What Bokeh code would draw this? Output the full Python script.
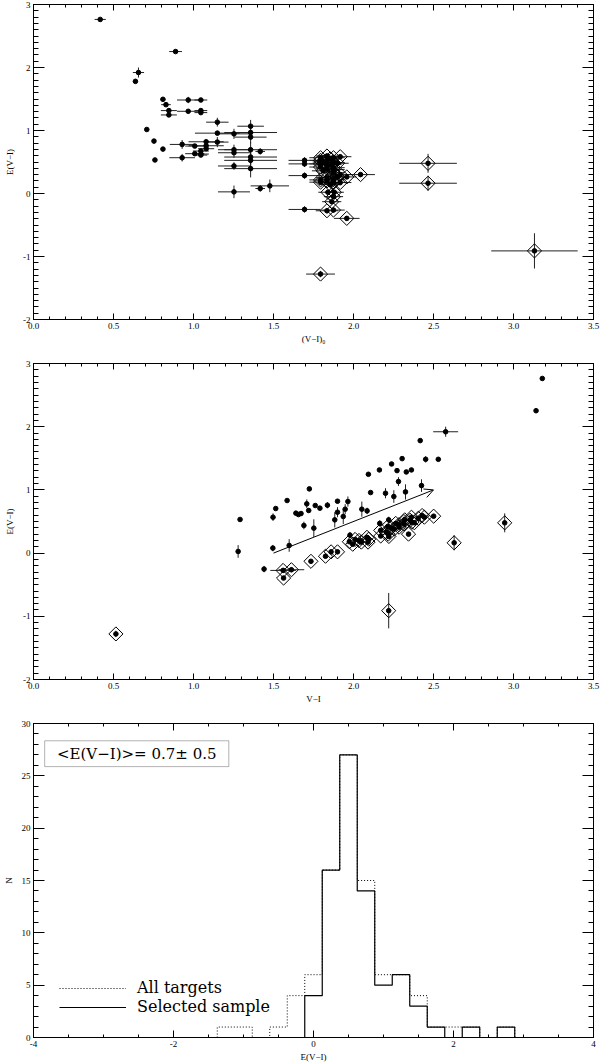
import numpy as np
from bokeh.plotting import figure
from bokeh.models import (ColumnDataSource, LinearAxis, FixedTicker, PrintfTickFormatter,
                          CustomJSTickFormatter, Range1d, Arrow, OpenHead, Legend, LegendItem,
                          Label, BoxAnnotation)
from bokeh.layouts import column
from bokeh.embed import file_html
from bokeh.resources import INLINE

# ---------------- data ----------------
# stars without diamond flag: intrinsic colour (V-I)0, reddening E(V-I), errors
dot_vi0 = [0.417, 0.888, 0.656, 0.637, 0.809, 0.828, 0.846, 0.846, 0.967, 1.046,
           0.967, 1.046, 1.046, 0.708, 0.753, 0.759, 0.809, 0.929, 0.929, 1.008,
           1.008, 1.046, 1.046, 1.046, 1.079, 1.079, 1.079, 1.149, 1.149, 1.149,
           1.253, 1.253, 1.253, 1.253, 1.253, 1.357, 1.357, 1.357, 1.357, 1.357,
           1.357, 1.357, 1.417, 1.417, 1.477, 1.694, 1.694, 1.694, 1.694]
dot_e = [2.763, 2.253, 1.92, 1.78, 1.495, 1.41, 1.316, 1.247, 1.484, 1.484,
         1.305, 1.316, 1.284, 1.016, 0.832, 0.532, 0.705, 0.779, 0.568, 0.753,
         0.632, 0.674, 0.626, 0.61, 0.821, 0.758, 0.711, 1.132, 0.958, 0.816,
         0.947, 0.695, 0.647, 0.437, 0.026, 1.068, 0.968, 0.895, 0.695, 0.579,
         0.526, 0.395, 0.668, 0.079, 0.121, 0.526, 0.47, 0.284, -0.253]
dot_vi0_err = [0.035, 0.04, 0.035, 0.0, 0.015, 0.03, 0.05, 0.05, 0.07, 0.04,
               0.07, 0.04, 0.04, 0.0, 0.0, 0.0, 0.0, 0.077, 0.08, 0.06,
               0.06, 0.05, 0.05, 0.04, 0.11, 0.11, 0.05, 0.07, 0.14, 0.07,
               0.1, 0.1, 0.1, 0.1, 0.1, 0.083, 0.165, 0.1, 0.165, 0.165,
               0.165, 0.165, 0.03, 0.03, 0.12, 0.1, 0.1, 0.1, 0.1]
dot_e_err = [0.0, 0.02, 0.08, 0.0, 0.0, 0.0, 0.0, 0.0, 0.05, 0.0,
             0.0, 0.0, 0.0, 0.0, 0.0, 0.0, 0.0, 0.07, 0.06, 0.0,
             0.02, 0.03, 0.03, 0.0, 0.03, 0.05, 0.03, 0.07, 0.0, 0.08,
             0.08, 0.08, 0.08, 0.06, 0.1, 0.1, 0.12, 0.1, 0.12, 0.12,
             0.12, 0.14, 0.05, 0.05, 0.1, 0.05, 0.05, 0.05, 0.05]
dot_vi_err = [0.0, 0.0, 0.078, 0.0, 0.0, 0.0, 0.0, 0.0, 0.0, 0.0,
              0.0, 0.0, 0.0, 0.0, 0.0, 0.0, 0.0, 0.0, 0.0, 0.0,
              0.0, 0.0, 0.0, 0.0, 0.0, 0.0, 0.0, 0.0, 0.0, 0.0,
              0.0, 0.0, 0.0, 0.0, 0.0, 0.0, 0.0, 0.0, 0.0, 0.0,
              0.0, 0.0, 0.0, 0.0, 0.0, 0.0, 0.0, 0.0, 0.0]

# stars marked with a diamond
dia_vi0 = [1.794, 3.131, 2.466, 2.466, 2.044, 1.958, 1.958, 1.834, 1.875, 1.864,
           1.875, 1.84, 1.88, 1.794, 1.794, 1.834, 1.834, 1.875, 1.875, 1.917,
           1.917, 1.875, 1.855, 1.81, 1.90, 1.794, 1.794, 1.794, 1.794, 1.834,
           1.834, 1.834, 1.834, 1.875, 1.875, 1.875, 1.917, 1.855, 1.855, 1.815,
           1.90, 1.875]
dia_e = [-1.279, -0.911, 0.479, 0.163, 0.30, 0.263, -0.395, -0.274, -0.263, -0.13,
         -0.05, 0.02, 0.02, 0.216, 0.18, 0.20, 0.25, 0.174, 0.22, 0.174,
         0.30, 0.33, 0.14, 0.36, 0.27, 0.568, 0.526, 0.47, 0.42, 0.595,
         0.52, 0.45, 0.40, 0.568, 0.49, 0.41, 0.584, 0.55, 0.46, 0.50,
         0.48, 0.38]
dia_vi0_err = [0.09, 0.27, 0.18, 0.18, 0.09, 0.06, 0.08, 0.07, 0.07, 0.06,
               0.06, 0.06, 0.06, 0.07, 0.07, 0.07, 0.07, 0.07, 0.07, 0.07,
               0.07, 0.07, 0.07, 0.07, 0.07, 0.07, 0.07, 0.07, 0.07, 0.07,
               0.07, 0.07, 0.07, 0.07, 0.07, 0.07, 0.07, 0.07, 0.07, 0.07,
               0.07, 0.07]
dia_e_err = [0.05, 0.28, 0.15, 0.12, 0.03, 0.03, 0.03, 0.04, 0.04, 0.03,
             0.03, 0.03, 0.03, 0.03, 0.03, 0.03, 0.03, 0.03, 0.03, 0.03,
             0.03, 0.03, 0.03, 0.03, 0.03, 0.03, 0.03, 0.03, 0.03, 0.03,
             0.03, 0.03, 0.03, 0.03, 0.03, 0.03, 0.03, 0.03, 0.03, 0.03,
             0.03, 0.03]
dia_vi_err = [0.0, 0.0, 0.0, 0.0, 0.0, 0.0, 0.0, 0.08, 0.08, 0.0,
              0.0, 0.0, 0.0, 0.0, 0.0, 0.0, 0.0, 0.0, 0.0, 0.0,
              0.0, 0.0, 0.0, 0.0, 0.0, 0.0, 0.0, 0.0, 0.0, 0.0,
              0.0, 0.0, 0.0, 0.0, 0.0, 0.0, 0.0, 0.0, 0.0, 0.0,
              0.0, 0.0]

# reddening vector in the V-I panel
arrow_vi = [1.5, 2.5]
arrow_e = [0.0, 1.0]

# histogram of E(V-I)
hist_edges = [-1.375, -1.125, -0.875, -0.625, -0.375, -0.125, 0.125, 0.375, 0.625,
              0.875, 1.125, 1.375, 1.625, 1.875, 2.125, 2.375, 2.625, 2.875]
all_counts = [1, 1, 0, 1, 4, 6, 16, 27, 15, 6, 6, 4, 1, 1, 1, 0, 1]
sel_counts = [0, 0, 0, 0, 0, 4, 16, 27, 14, 5, 6, 3, 1, 0, 1, 0, 1]

mean_text = "<E(V\u2212I)>= 0.7\u00b1 0.5"

# ---------------- helpers ----------------
TICK_FONT = "Liberation Serif"
W = 600


def make_fig(height, xr, yr, top, bottom):
    p = figure(width=W, height=height, x_range=Range1d(*xr), y_range=Range1d(*yr),
               output_backend="svg", toolbar_location=None,
               min_border_left=30, min_border_right=7,
               min_border_top=top, min_border_bottom=bottom)
    p.xgrid.visible = False
    p.ygrid.visible = False
    p.outline_line_color = "black"
    p.background_fill_color = "white"
    p.border_fill_color = "white"
    return p


def style_axis(ax, ticker, fmt, tick_major, tick_minor, label=None, lstand=2):
    ax.ticker = ticker
    ax.formatter = fmt
    ax.major_tick_in = tick_major
    ax.major_tick_out = 0
    ax.minor_tick_in = tick_minor
    ax.minor_tick_out = 0
    ax.axis_line_color = "black"
    ax.major_tick_line_color = "black"
    ax.minor_tick_line_color = "black"
    ax.major_label_text_font = TICK_FONT
    ax.major_label_text_font_size = "9px"
    ax.major_label_text_color = "black"
    ax.major_label_standoff = 3
    if label is not None:
        ax.axis_label = label
        ax.axis_label_text_font = TICK_FONT
        ax.axis_label_text_font_size = "9px"
        ax.axis_label_text_font_style = "normal"
        ax.axis_label_text_color = "black"
        ax.axis_label_standoff = lstand


def hidden_axis(ticker, tick_major, tick_minor):
    ax = LinearAxis(ticker=ticker, formatter=CustomJSTickFormatter(code="return ''"))
    ax.major_tick_in = tick_major
    ax.major_tick_out = 0
    ax.minor_tick_in = tick_minor
    ax.minor_tick_out = 0
    ax.axis_line_color = "black"
    ax.major_tick_line_color = "black"
    ax.minor_tick_line_color = "black"
    ax.major_label_text_font_size = "0px"
    ax.major_label_standoff = 0
    return ax


def frame_axes(p, xt, yt, xfmt, yfmt, xlabel, ylabel, xlen=(6, 3), ylen=(11, 5)):
    style_axis(p.xaxis[0], xt, xfmt, xlen[0], xlen[1], xlabel, lstand=2)
    style_axis(p.yaxis[0], yt, yfmt, ylen[0], ylen[1], ylabel, lstand=5)
    p.add_layout(hidden_axis(xt, xlen[0], xlen[1]), "above")
    p.add_layout(hidden_axis(yt, ylen[0], ylen[1]), "right")


def errbars(p, x, y, xerr, yerr):
    x = np.asarray(x); y = np.asarray(y)
    xerr = np.asarray(xerr); yerr = np.asarray(yerr)
    src = ColumnDataSource(dict(x=x, y=y, xl=x - xerr, xh=x + xerr, yl=y - yerr, yh=y + yerr))
    p.segment(x0="xl", y0="y", x1="xh", y1="y", source=src, line_color="#222222", line_width=1)
    p.segment(x0="x", y0="yl", x1="x", y1="yh", source=src, line_color="#222222", line_width=1)


def points(p, dx, dy, ix, iy):
    p.scatter(ix, iy, marker="square", angle=np.pi / 4, size=10, fill_color=None,
              line_color="black", line_width=1)
    p.scatter(dx, dy, marker="circle", size=4.6, fill_color="black", line_color="black")
    p.scatter(ix, iy, marker="circle", size=4.6, fill_color="black", line_color="black")


def color_ticks():
    return (FixedTicker(ticks=list(np.arange(0, 3.51, 0.5)),
                        minor_ticks=list(np.round(np.arange(0, 3.51, 0.1), 2))),
            FixedTicker(ticks=[-2, -1, 0, 1, 2, 3],
                        minor_ticks=list(np.round(np.arange(-2, 3.01, 0.1), 2))))


# ---------------- panel 1: E(V-I) vs (V-I)0 ----------------
xt1, yt1 = color_ticks()
p1 = make_fig(360, (0, 3.5), (-2, 3), 4, 41)
frame_axes(p1, xt1, yt1, PrintfTickFormatter(format="%.1f"), PrintfTickFormatter(format="%d"),
           "(V\u2212I)\u2080", "E(V\u2212I)")
errbars(p1, dot_vi0, dot_e, dot_vi0_err, dot_e_err)
errbars(p1, dia_vi0, dia_e, dia_vi0_err, dia_e_err)
points(p1, dot_vi0, dot_e, dia_vi0, dia_e)

# ---------------- panel 2: E(V-I) vs observed V-I ----------------
dot_vi = list(np.asarray(dot_vi0) + np.asarray(dot_e))
dia_vi = list(np.asarray(dia_vi0) + np.asarray(dia_e))

xt2, yt2 = color_ticks()
p2 = make_fig(360, (0, 3.5), (-2, 3), 3, 41)
frame_axes(p2, xt2, yt2, PrintfTickFormatter(format="%.1f"), PrintfTickFormatter(format="%d"),
           "V\u2212I", "E(V\u2212I)")
errbars(p2, dot_vi, dot_e, dot_vi_err, dot_e_err)
errbars(p2, dia_vi, dia_e, dia_vi_err, dia_e_err)
points(p2, dot_vi, dot_e, dia_vi, dia_e)
p2.add_layout(Arrow(end=OpenHead(size=9, line_width=1, line_color="black"),
                    x_start=arrow_vi[0], y_start=arrow_e[0], x_end=arrow_vi[1], y_end=arrow_e[1],
                    line_color="black", line_width=1))

# ---------------- panel 3: histogram ----------------
hx_tick = FixedTicker(ticks=[-4, -2, 0, 2, 4], minor_ticks=list(np.arange(-4, 4.01, 0.5)))
hy_tick = FixedTicker(ticks=[0, 5, 10, 15, 20, 25, 30], minor_ticks=list(range(0, 31)))
p3 = make_fig(344, (-4, 4), (0, 30), 3, 26)
frame_axes(p3, hx_tick, hy_tick, PrintfTickFormatter(format="%d"), PrintfTickFormatter(format="%d"),
           "E(V\u2212I)", "N", xlen=(7, 3), ylen=(11, 5))

step_x = [hist_edges[0]] + list(hist_edges)
r_all = p3.step(step_x, [0] + list(all_counts) + [0], mode="after",
                line_color="black", line_width=1, line_dash="1 2")
r_sel = p3.step(step_x, [0] + list(sel_counts) + [0], mode="after",
                line_color="black", line_width=1.2)

legend = Legend(items=[LegendItem(label="All targets", renderers=[r_all]),
                       LegendItem(label="Selected sample", renderers=[r_sel])],
                location=(26, 21), padding=0, margin=0, spacing=0,
                glyph_width=67, glyph_height=18, label_height=18, label_standoff=11,
                label_text_font="DejaVu Serif", label_text_font_size="16px",
                label_text_color="black",
                border_line_alpha=0, background_fill_alpha=0)
p3.add_layout(legend)

p3.add_layout(BoxAnnotation(left=-3.84, right=-1.21, bottom=25.88, top=28.35,
                            fill_alpha=0, line_color="black", line_width=1))
p3.add_layout(Label(x=-2.525, y=27.12, text=mean_text, text_align="center",
                    text_baseline="middle", text_font="DejaVu Serif",
                    text_font_size="15px", text_color="black"))

layout = column(p1, p2, p3, spacing=0)
open("out.html", "w").write(file_html(layout, INLINE))
